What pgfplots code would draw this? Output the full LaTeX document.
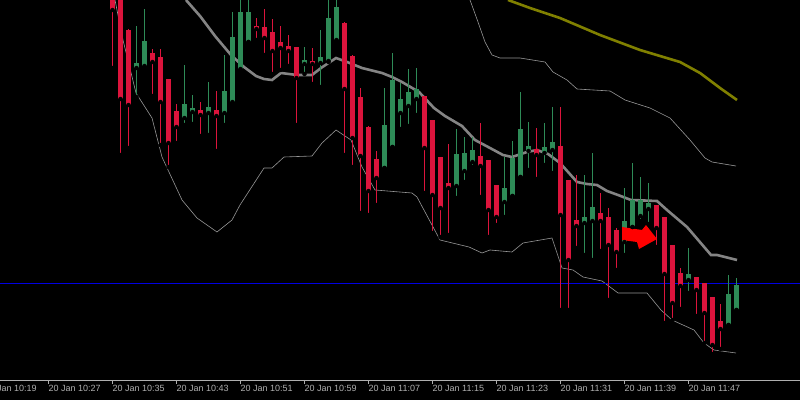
\documentclass[border=0pt]{standalone}
\usepackage{pgfplots}
\usepackage{pgfplotstable}
\pgfplotsset{compat=1.18}
\usepackage{fontspec}
\setmainfont{Liberation Sans}
\definecolor{bullc}{RGB}{46,139,87}
\definecolor{bearc}{RGB}{220,20,60}
\definecolor{bandc}{RGB}{132,132,132}
\definecolor{thinc}{RGB}{150,150,150}
\definecolor{olivec}{RGB}{128,128,0}
\definecolor{bluec}{RGB}{0,0,225}
\definecolor{axc}{RGB}{175,175,175}

% pixel readings: x, open, high, low, close (y measured downward)
\pgfplotstableread{
x o h l c
136 68 26 97 63
144 66 9 67 41
184 118 65 125 104
192 112 95 124 108
208 113 82 135 107
224 113 55 125 91
232 102 12 103 37
240 69 -5 70 12
248 42 -5 42 12
304 64 47 74 60
320 63 30 87 57
328 61 -5 62 18
336 40 -5 41 7
384 168 88 168 125
392 147 53 147 80
400 113 83 129 99
408 106 69 126 92
416 99 68 115 89
456 186 129 198 154
464 171 137 182 153
472 162 137 167 150
504 202 157 217 188
512 196 141 196 158
520 177 92 177 129
528 151 122 170 146
544 153 123 165 147
552 150 107 173 142
584 223 175 255 217
592 221 153 260 207
624 242 188 255 221
632 227 163 227 200
640 216 177 221 200
648 209 183 224 203
688 280 248 293 274
728 325 275 325 294
736 310 278 310 285
}\bull

\pgfplotstableread{
x o h l c
112 -10 -20 68 10
120 -5 -10 155 99
128 30 29 148 105
152 53 49 96 62
160 57 49 145 102
168 79 79 167 143
176 111 104 143 127
200 110 102 136 115
216 110 91 151 116
256 26 18 40 29
264 27 9 55 38
272 32 19 74 51
280 42 26 70 48
288 46 35 66 51
296 47 47 125 78
312 61 48 84 64
344 23 22 155 89
352 56 55 167 138
360 97 88 213 156
368 127 126 215 191
376 159 151 205 178
424 96 96 193 148
432 120 120 233 195
440 157 157 237 208
448 183 144 235 188
480 156 123 197 166
488 160 160 237 210
496 185 185 225 217
536 149 128 179 155
560 146 107 310 215
568 180 180 310 260
576 220 175 248 226
600 213 193 251 221
608 217 208 300 245
616 230 228 270 252
656 205 205 247 228
664 217 217 323 274
672 245 245 320 303
680 273 268 309 286
696 277 277 316 290
704 283 283 343 313
712 297 297 354 345
720 321 304 349 329
}\bear

\pgfplotsset{
  candlepart/.style 2 args={only marks, mark=none,
    error bars/.cd, y dir=plus, y explicit, error mark=none,
    error bar style={line width=#1, color=#2, line cap=butt}},
}

\begin{document}
\begin{tikzpicture}[x=1pt,y=1pt]
\fill[black] (0,-20) rectangle (800,380);
\begin{axis}[
  at={(-16pt,0pt)}, anchor=south west,
  scale only axis, width=816pt, height=380pt,
  xmin=-16, xmax=800, ymin=-380, ymax=0,
  axis x line*=bottom, axis y line=none,
  x axis line style={draw=axc, line width=0.8pt},
  xtick={-16,48,112,176,240,304,368,432,496,560,624,688},
  xticklabels={20 Jan 10:19,20 Jan 10:27,20 Jan 10:35,20 Jan 10:43,20 Jan 10:51,20 Jan 10:59,20 Jan 11:07,20 Jan 11:15,20 Jan 11:23,20 Jan 11:31,20 Jan 11:39,20 Jan 11:47},
  tick align=outside, major tick length=4pt,
  x tick style={draw=axc, line width=0.8pt},
  xticklabel style={anchor=north west, xshift=-1.5pt, yshift=1pt, text=axc, font=\fontsize{9}{10}\selectfont, inner sep=2pt},
  clip=true,
]
% upper band
\addplot[thinc, line width=0.6pt] coordinates {(470,0) (478,-22) (485,-42) (492,-55) (500,-58) (520,-58) (545,-62) (553,-72) (567,-80) (577,-89) (610,-91) (625,-100) (650,-108) (670,-118) (690,-140) (705,-158) (712,-162) (736,-166)};
% lower band
\addplot[thinc, line width=0.6pt] coordinates {(115,0) (123,-40) (136,-93) (152,-118) (162,-157) (182,-200) (197,-218) (217,-232) (232,-220) (240,-205) (264,-168) (272,-168) (284,-157) (312,-156) (322,-143) (336,-130) (351,-140) (362,-167) (375,-190) (412,-193) (417,-197) (440,-240) (469,-247) (482,-253) (490,-250) (512,-252) (523,-243) (552,-238) (562,-268) (573,-270) (583,-277) (602,-281) (618,-293) (647,-293) (661,-310) (672,-320) (694,-330) (704,-343) (714,-350) (736,-353)};
% middle band
\addplot[bandc, line width=2.6pt] coordinates {(186,0) (200,-16) (215,-36) (231,-55) (244,-67) (256,-76) (264,-79) (272,-80) (281,-73) (297,-75) (312,-75) (321,-68) (336,-58) (347,-62) (362,-68) (382,-73) (392,-77) (402,-82) (419,-92) (434,-108) (445,-116) (462,-126) (475,-140) (490,-148) (503,-155) (512,-157) (527,-152) (537,-150) (548,-154) (560,-163) (577,-182) (587,-184) (597,-185) (607,-191) (618,-195) (631,-200) (657,-201) (667,-210) (687,-227) (711,-255) (717,-255) (737,-260)};
% olive MA
\addplot[olivec, line width=2.6pt] coordinates {(508,0) (530,-8) (560,-18) (600,-35) (640,-50) (680,-62) (700,-73) (720,-88) (737,-100)};
% blue horizontal line
\addplot[draw=bluec, line width=1pt] coordinates {(-16,-283.5) (800,-283.5)};
% wicks
\addplot[candlepart={1pt}{bullc}]
  table[x expr={\thisrow{x}+0.5}, y expr={-\thisrow{l}},
        y error plus expr={\thisrow{l}-\thisrow{h}}] {\bull};
\addplot[candlepart={1pt}{bearc}]
  table[x expr={\thisrow{x}+0.5}, y expr={-\thisrow{l}},
        y error plus expr={\thisrow{l}-\thisrow{h}}] {\bear};
% bodies
\addplot[candlepart={5pt}{bullc}]
  table[x expr={\thisrow{x}+0.5}, y expr={-max(\thisrow{o},\thisrow{c})},
        y error plus expr={max(abs(\thisrow{o}-\thisrow{c}),1)}] {\bull};
\addplot[candlepart={5pt}{bearc}]
  table[x expr={\thisrow{x}+0.5}, y expr={-max(\thisrow{o},\thisrow{c})},
        y error plus expr={max(abs(\thisrow{o}-\thisrow{c}),1)}] {\bear};
% arrow
\addplot[fill=red, draw=none] coordinates {(622,-227) (642,-230) (646,-225) (657,-239) (639,-249) (637,-242) (622,-240)} -- cycle;
\end{axis}
\pgfresetboundingbox
\path[use as bounding box] (0,-20) rectangle (800,380);
\end{tikzpicture}
\end{document}
